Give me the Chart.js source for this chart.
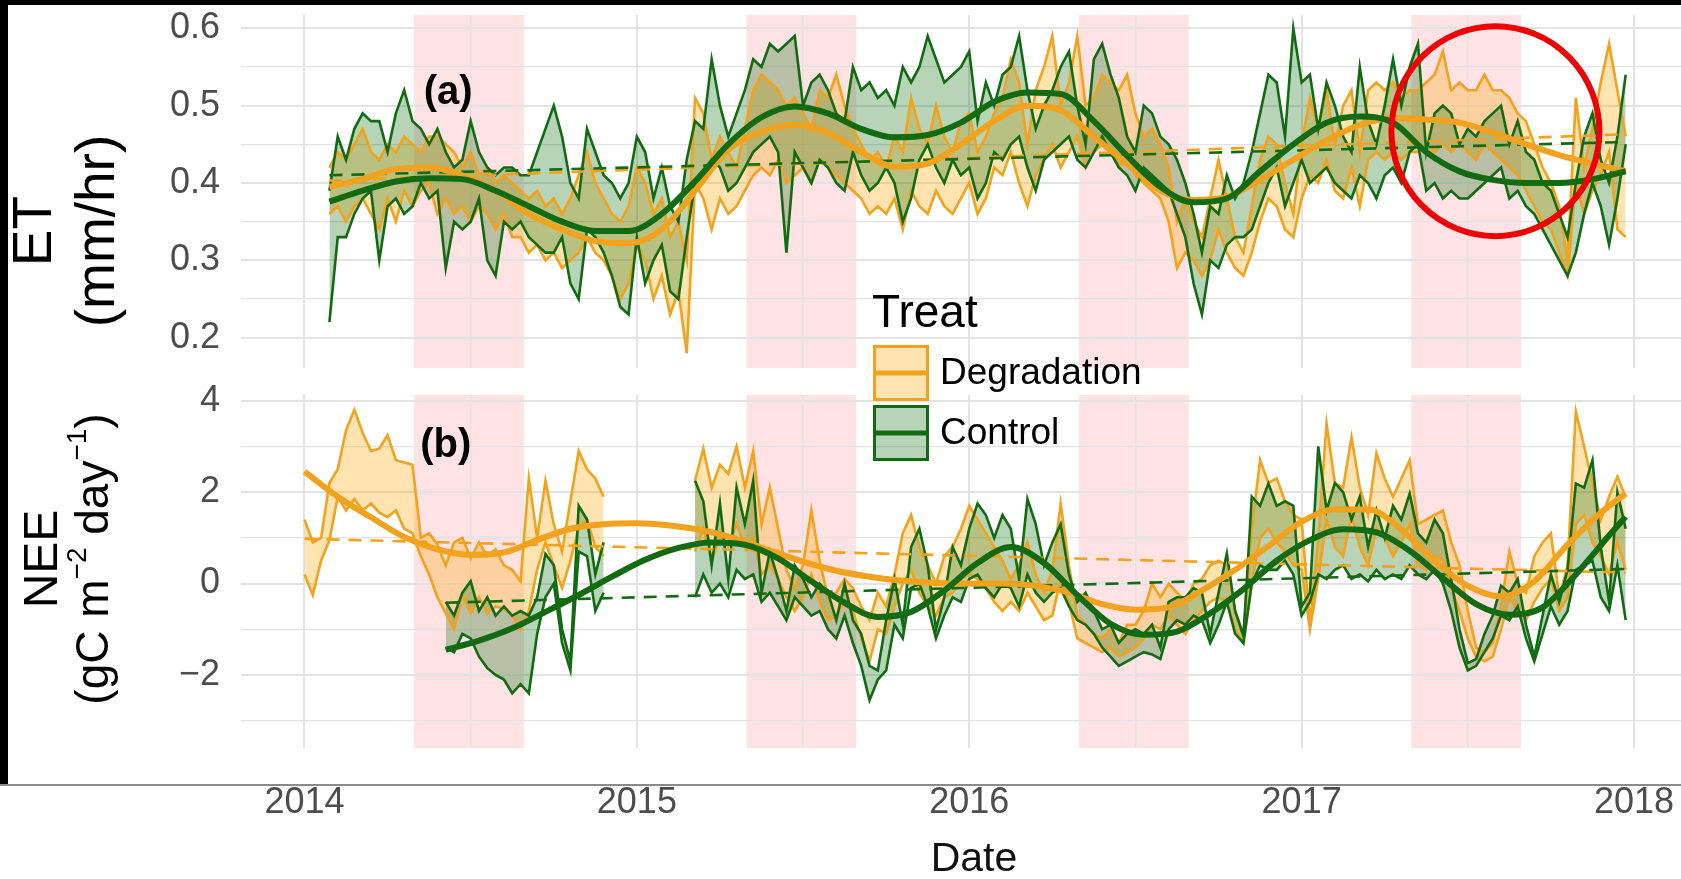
<!DOCTYPE html>
<html lang="en">
<head>
<meta charset="utf-8">
<title>ET and NEE by treatment</title>
<script src="https://cdn.jsdelivr.net/npm/chart.js@4.4.1/dist/chart.umd.min.js"></script>
<style>
  html, body { margin: 0; padding: 0; background: #fff; overflow: hidden; }
  #fig { position: relative; width: 1681px; height: 879px; overflow: hidden; background: #fff; }
  #fig canvas { position: absolute; left: 0; top: 0; }
  .frame { position: absolute; background: #000; }
  .seam { position: absolute; left: 0; top: 784px; width: 1681px; height: 2px; background: #8a8a8a; }
</style>
</head>
<body>
<div id="fig">
  <canvas id="etChart" width="1707" height="879"></canvas>
  <canvas id="neeChart" width="1707" height="879"></canvas>
  <div class="frame" style="left:0;top:0;width:1681px;height:5px"></div>
  <div class="frame" style="left:0;top:0;width:8px;height:784px"></div>
  <div class="seam"></div>
</div>
<script>
(function () {
  'use strict';

  const FONT = '"Liberation Sans", Arial, Helvetica, sans-serif';
  const DEG = '#f2a21c';
  const CTL = '#126b12';
  const DEG_FILL = 'rgba(255, 165, 0, 0.3)';
  const CTL_FILL = 'rgba(0, 100, 0, 0.28)';
  const GRID = '#e3e3e3';
  const TICK = '#4d4d4d';

  // samples sit on a regular grid: value k is at START + STEP * k (decimal years)
  const START = 2014;
  const STEP = 0.025;
  const X_MIN = 2013.809;
  const X_MAX = 2018.2196;

  const treatments = ['Degradation', 'Control'];

  // dry season shading, decimal years
  const dryStart = [2014.33, 2015.33, 2016.33, 2017.33];
  const dryEnd = [2014.66, 2015.66, 2016.66, 2017.66];

  // highlighted stretch in panel (a): centre as [year, ET]
  const highlightAt = [2017.583, 0.467];

  // ---- ET (mm/hr), ribbon edges per treatment ----
  const etDegHi = [
    null, null, null, .42, .44, .43, .45, .47, .44, .43, .45, .44, .46, .45, .44, .46, .46, .45, .44, .42,
    .44, .41, .42, .40, .41, .40, .39, .38, .39, .37, .38, .36, .38, .41, .44, .40, .38, .36, .35, .37,
    .42, .40, .36, .38, .33, .35, .30, .51, .49, .43, .46, .44, .42, .47, .52, .54, .53, .52, .50, .51,
    .49, .47, .52, .51, .54, .50, .47, .45, .43, .44, .42, .46, .44, .51, .47, .45, .50, .46, .44, .48,
    .49, .44, .46, .49, .51, .56, .53, .45, .52, .55, .59, .50, .53, .59, .50, .51, .54, .53, .52, .54,
    .49, .46, .47, .45, .42, .35, .38, .35, .33, .38, .43, .38, .33, .31, .37, .43, .46, .45, .40, .36,
    .45, .51, .47, .52, .45, .50, .52, .44, .52, .53, .52, .53, .51, .52, .52, .53, .54, .57, .52, .53,
    .52, .52, .54, .52, .52, .51, .49, .48, .45, .42, .40, .37, .30, .51, .42, .47, .53, .58, .52, .46
  ];
  const etDegLo = [
    null, null, null, .36, .37, .35, .37, .38, .36, .34, .38, .35, .39, .37, .39, .40, .36, .38, .36, .37,
    .35, .37, .36, .34, .36, .33, .33, .31, .32, .30, .31, .29, .30, .31, .33, .31, .30, .28, .25, .27,
    .32, .30, .25, .28, .23, .26, .18, .40, .38, .34, .38, .36, .37, .39, .41, .42, .41, .43, .40, .41,
    .42, .40, .43, .42, .41, .40, .39, .38, .36, .37, .36, .38, .34, .39, .37, .36, .39, .37, .36, .38,
    .40, .36, .38, .42, .41, .44, .40, .37, .41, .43, .45, .42, .44, .46, .42, .44, .45, .44, .42, .43,
    .41, .40, .39, .38, .35, .29, .31, .30, .28, .30, .34, .31, .29, .28, .31, .35, .38, .37, .34, .33,
    .38, .41, .40, .43, .39, .38, .42, .37, .43, .44, .43, .44, .43, .44, .44, .45, .44, .45, .44, .45,
    .44, .43, .45, .44, .43, .42, .41, .39, .37, .35, .34, .31, .28, .40, .36, .39, .41, .44, .34, .33
  ];
  const etCtlHi = [
    null, null, null, .39, .46, .43, .47, .49, .48, .48, .44, .49, .52, .48, .47, .45, .47, .44, .42, .43,
    .48, .44, .42, .41, .42, .42, .41, .41, .44, .47, .50, .46, .40, .38, .47, .44, .41, .40, .38, .40,
    .46, .44, .38, .42, .37, .35, .43, .48, .47, .56, .50, .46, .49, .52, .56, .55, .58, .57, .58, .59,
    .50, .53, .54, .52, .49, .48, .55, .52, .53, .51, .52, .50, .55, .53, .55, .59, .56, .53, .54, .55,
    .57, .48, .53, .50, .54, .55, .59, .52, .47, .50, .52, .55, .57, .50, .45, .56, .58, .54, .51, .46,
    .44, .50, .49, .46, .45, .43, .40, .36, .31, .37, .36, .41, .38, .40, .44, .49, .54, .53, .46, .60,
    .53, .54, .47, .53, .50, .46, .44, .55, .48, .45, .50, .56, .50, .55, .58, .44, .49, .50, .49, .45,
    .47, .46, .48, .49, .50, .45, .48, .44, .43, .40, .39, .36, .33, .40, .46, .49, .43, .40, .46, .54
  ];
  const etCtlLo = [
    null, null, null, .22, .33, .33, .36, .38, .39, .30, .37, .38, .36, .37, .40, .38, .39, .29, .35, .34,
    .35, .38, .30, .28, .35, .34, .35, .33, .32, .31, .31, .33, .27, .25, .34, .33, .31, .28, .24, .23,
    .33, .27, .30, .32, .26, .25, .33, .40, .41, .43, .42, .39, .40, .42, .44, .45, .46, .44, .31, .44,
    .42, .40, .43, .42, .40, .39, .44, .41, .39, .40, .42, .40, .35, .38, .43, .45, .42, .40, .43, .41,
    .42, .38, .40, .44, .43, .45, .46, .42, .39, .43, .44, .45, .46, .43, .42, .44, .46, .44, .42, .41,
    .39, .42, .41, .40, .39, .36, .33, .27, .23, .30, .29, .32, .33, .33, .34, .37, .40, .42, .37, .40,
    .43, .40, .41, .42, .40, .39, .38, .41, .40, .38, .41, .42, .40, .44, .45, .39, .40, .38, .39, .38,
    .38, .39, .40, .41, .42, .38, .39, .37, .36, .34, .32, .30, .28, .31, .36, .40, .37, .32, .38, .45
  ];
  // fitted seasonal curves and linear trends (sample index -> value)
  const etSmoothIdx = [3, 7, 11, 15, 19, 23, 27, 31, 35, 39, 43, 47, 51, 55, 59, 63, 67, 71, 75, 79,
    83, 87, 91, 95, 99, 103, 107, 111, 115, 119, 123, 127, 131, 135, 139, 143, 147, 151, 155, 159];
  const etDegSmooth = [.395, .405, .418, .42, .41, .39, .36, .34, .325, .322, .34, .39, .443, .466, .475, .465, .44, .421, .425, .45,
    .48, .50, .494, .46, .425, .39, .378, .382, .404, .43, .455, .475, .484, .482, .478, .465, .45, .436, .425, .415];
  const etCtlSmooth = [.376, .39, .402, .406, .405, .39, .37, .35, .338, .338, .36, .402, .45, .485, .499, .49, .47, .459, .462, .478,
    .505, .517, .515, .48, .435, .395, .375, .38, .415, .45, .478, .486, .478, .44, .415, .404, .40, .40, .405, .415];
  const etTrendIdx = [3, 159];
  const etDegTrend = [0.403, 0.463];
  const etCtlTrend = [0.41, 0.453];

  // ---- NEE (gC m-2 day-1), ribbon edges per treatment; nulls are missing weeks ----
  const neeDegHi = [
    1.40, 0.90, 1.00, 2.20, 2.50, 3.35, 3.80, 3.30, 2.90, 2.95, 3.25, 2.70, 2.65, 2.60, 1.00, 1.10, 0.85, 0.40, 0.90, 1.00,
    0.55, 0.90, 0.60, 0.75, 0.40, 0.30, 0.05, 2.30, 1.00, 2.25, 1.30, 0.70, 1.80, 2.90, 2.50, 2.30, 1.90, null, null, null,
    null, null, null, null, null, null, null, 2.25, 2.95, 2.10, 2.60, 2.40, 3.00, 2.10, 2.90, 1.30, 2.10, 1.20, 0.30, -0.10,
    0.40, 1.60, 0.50, -0.30, -0.20, 0.10, -0.10, -0.50, -0.80, -0.20, -0.50, 0.20, 1.10, 1.50, 0.80, 0.40, 0.00, 0.60, 0.80, 1.20,
    1.70, 1.40, 1.10, 0.80, 0.50, 0.10, 0.40, 0.90, 0.20, -0.20, 0.30, 1.75, 0.40, -0.70, -0.90, -1.10, -1.20, -1.00, -1.30, -0.90,
    -0.90, -0.60, 0.00, -0.30, 0.00, -0.20, -0.40, 0.00, 0.10, 0.40, 0.50, 0.40, -0.60, -1.10, 1.20, 2.70, 2.20, 2.30, 1.80, 1.50,
    1.40, -0.90, 1.00, 3.50, 2.20, 2.10, 3.20, 2.10, 1.50, 2.85, 2.30, 1.90, 2.30, 2.70, 1.30, 1.40, 1.50, 1.60, 0.90, 0.40,
    -0.60, -1.40, -1.50, -1.30, -0.50, 0.70, 0.00, -0.20, 0.60, 0.90, 1.10, -0.30, 0.40, 3.77, 3.00, 2.20, 1.40, 1.90, 2.34, 1.90
  ];
  const neeDegLo = [
    0.20, -0.25, 0.50, 0.95, 1.90, 1.60, 1.85, 1.60, 1.75, 1.55, 1.45, 1.60, 1.20, 1.10, 0.60, 0.20, -0.30, -0.65, -1.00, -0.25,
    -0.65, -0.30, -0.65, -0.50, -0.55, -0.70, -1.00, -0.60, 0.30, 0.90, 0.40, -0.10, 0.50, 1.20, 1.40, 0.80, 0.60, null, null, null,
    null, null, null, null, null, null, null, 0.70, 1.20, 0.50, 1.00, 0.80, 1.30, 0.80, 1.00, 0.20, 0.40, 0.10, -0.30, -0.60,
    -0.30, 0.20, -0.40, -0.80, -0.70, -0.40, -0.60, -1.20, -1.70, -1.00, -1.10, -0.50, 0.00, 0.30, -0.20, -0.50, -0.70, -0.30, -0.20, 0.10,
    0.20, 0.10, -0.10, -0.40, -0.60, -0.40, -0.60, -0.20, -0.50, -0.80, -0.70, 0.10, -0.40, -1.20, -1.30, -1.40, -1.50, -1.40, -1.60, -1.50,
    -1.40, -1.20, -0.90, -1.00, -0.70, -0.90, -1.10, -0.80, -0.60, -0.40, -0.30, -0.40, -1.00, -1.30, 0.00, 1.00, 1.20, 0.90, 0.70, 0.40,
    0.30, -1.00, 0.10, 1.40, 0.80, 0.60, 1.50, 0.80, 0.40, 1.20, 1.00, 0.60, 0.90, 1.30, 0.40, 0.30, 0.60, 0.50, -0.10, -0.60,
    -1.20, -1.60, -1.70, -1.60, -1.00, -0.30, -0.60, -0.80, -0.40, -0.10, 0.10, -0.60, -0.30, 1.30, 1.50, 0.90, 0.60, 0.20, 0.90, 0.30
  ];
  const neeCtlHi = [
    null, null, null, null, null, null, null, null, null, null, null, null, null, null, null, null, null, -0.40, -0.70, -0.20,
    0.05, -0.60, -0.30, -0.70, -0.50, -0.70, -0.60, -0.70, -0.30, 0.65, 0.40, -1.00, -1.70, 1.70, 1.40, 0.20, 0.90, null, null, null,
    null, null, null, null, null, null, null, 2.25, 1.80, 0.40, 1.75, 0.10, 2.10, 1.30, 2.25, -0.20, 0.70, 0.10, -0.60, 0.40,
    0.10, -0.30, 0.00, -0.20, -0.80, 0.00, -0.80, -1.10, -1.80, -1.90, -0.80, 0.10, -0.90, 0.80, 1.20, 0.40, -1.00, -0.30, 0.80, 0.40,
    1.20, 1.75, 1.50, 1.00, 1.50, 1.20, 0.10, 1.85, 1.30, 0.40, 0.90, 1.30, 0.20, -0.40, -0.20, -0.60, -1.00, -0.90, -1.30, -1.10,
    -1.00, -1.10, -0.90, -1.40, -0.40, -0.30, -0.30, -0.10, -0.20, -1.10, -0.20, 0.66, -0.60, -1.15, 1.90, 1.70, 2.19, 1.70, 1.80, 1.70,
    -0.50, -0.20, 3.00, 1.60, 2.20, 2.00, 1.40, 1.90, 0.80, 1.60, 1.00, 1.70, 1.40, 1.97, 1.10, 0.90, 1.40, 1.10, 0.10, -1.00,
    -1.74, -1.65, -1.10, -0.70, -0.05, -0.20, 0.10, -0.90, -1.60, -0.70, 0.20, -0.40, 0.30, 2.19, 2.10, 2.70, 0.80, -0.40, 2.00, 1.20
  ];
  const neeCtlLo = [
    null, null, null, null, null, null, null, null, null, null, null, null, null, null, null, null, null, -1.40, -1.50, -1.10,
    -1.20, -1.60, -1.85, -2.00, -2.10, -2.40, -2.20, -2.40, -1.10, -0.30, 0.00, -1.30, -1.90, 0.70, 0.60, -0.60, -0.20, null, null, null,
    null, null, null, null, null, null, null, -0.30, 0.20, -0.20, 0.00, -0.30, 0.30, 0.10, 0.20, -0.40, -0.20, -0.50, -0.80, -0.30,
    -0.50, -0.70, -0.60, -1.00, -1.20, -0.70, -1.30, -1.80, -2.55, -2.10, -1.90, -0.90, -1.20, -0.10, 0.00, -0.50, -1.20, -0.70, -0.30, -0.40,
    0.10, 0.20, -0.10, -0.30, 0.00, -0.10, -0.50, 0.20, -0.20, -0.40, -0.20, -0.10, -0.50, -0.80, -0.90, -1.10, -1.40, -1.60, -1.80, -1.70,
    -1.60, -1.50, -1.55, -1.65, -1.00, -0.80, -0.90, -0.70, -0.80, -1.30, -0.90, -0.40, -1.10, -1.30, 0.00, 0.40, 0.30, 0.30, 0.50, 0.20,
    -0.70, -0.40, 0.20, 0.10, 0.30, 0.40, 0.10, 0.20, 0.05, 0.30, 0.10, 0.20, 0.10, 0.40, 0.20, 0.10, 0.30, 0.00, -0.60, -1.40,
    -1.90, -1.80, -1.50, -1.20, -0.70, -0.80, -0.50, -1.20, -1.70, -1.10, -0.50, -0.90, -0.60, 0.30, 0.40, 0.50, -0.30, -0.60, 0.40, -0.80
  ];
  const neeDegSmoothIdx = [0, 4, 8, 12, 16, 20, 24, 28, 32, 36, 40, 44, 48, 52, 56, 60, 64, 68, 72, 76,
    80, 84, 88, 92, 96, 100, 104, 108, 112, 116, 120, 124, 128, 132, 136, 140, 144, 148, 152, 156, 159];
  const neeDegSmooth = [2.45, 1.90, 1.45, 1.02, 0.75, 0.63, 0.68, 0.95, 1.20, 1.30, 1.32, 1.27, 1.16, 0.98, 0.72, 0.48, 0.28, 0.15, 0.06, 0.01,
    0.00, 0.00, -0.05, -0.20, -0.45, -0.57, -0.52, -0.15, 0.30, 0.82, 1.35, 1.62, 1.62, 1.18, 0.50, -0.05, -0.28, 0.05, 0.85, 1.55, 1.97];
  const neeCtlSmoothIdx = [17, 21, 25, 29, 33, 37, 41, 45, 49, 53, 57, 61, 65, 69, 73, 77, 81, 85, 89, 93,
    97, 101, 105, 109, 113, 117, 121, 125, 129, 133, 137, 141, 145, 149, 153, 157, 159];
  const neeCtlSmooth = [-1.45, -1.25, -0.98, -0.62, -0.25, 0.15, 0.52, 0.78, 0.90, 0.85, 0.55, 0.05, -0.42, -0.73, -0.62, -0.15, 0.45, 0.80, 0.45, -0.25,
    -0.88, -1.12, -1.05, -0.65, -0.12, 0.50, 0.95, 1.19, 1.12, 0.72, 0.12, -0.45, -0.68, -0.52, 0.20, 1.05, 1.46];
  const neeDegTrendIdx = [0, 159];
  const neeDegTrend = [0.98, 0.24];
  const neeCtlTrendIdx = [17, 159];
  const neeCtlTrend = [-0.42, 0.32];

  Chart.defaults.font.family = FONT;

  const pts = (vals, idx) => vals.map((v, k) => ({ x: START + STEP * (idx ? idx[k] : k), y: v }));

  function ribbon(hi, lo, color, fill) {
    const line = { borderColor: color, borderWidth: 2.6, pointRadius: 0, tension: 0, spanGaps: false };
    return [
      Object.assign({ data: pts(hi), fill: { target: '+1', above: fill, below: fill } }, line),
      Object.assign({ data: pts(lo), fill: false }, line)
    ];
  }
  function smooth(vals, idx, color) {
    return { data: pts(vals, idx), borderColor: color, borderWidth: 6, pointRadius: 0,
      cubicInterpolationMode: 'monotone', fill: false };
  }
  function trend(vals, idx, color) {
    return { data: pts(vals, idx), borderColor: color, borderWidth: 2.6, borderDash: [13, 9],
      pointRadius: 0, fill: false };
  }

  // rotated axis title; segments flagged sup are drawn as superscripts
  function drawRotated(ctx, segs, cx, cy, size) {
    const main = size + 'px ' + FONT;
    const sup = Math.round(size * 0.6) + 'px ' + FONT;
    let total = 0;
    const widths = segs.map(s => {
      ctx.font = s.sup ? sup : main;
      const w = ctx.measureText(s.t).width;
      total += w;
      return w;
    });
    ctx.save();
    ctx.translate(cx, cy);
    ctx.rotate(-Math.PI / 2);
    ctx.textAlign = 'left';
    ctx.textBaseline = 'middle';
    let pos = -total / 2;
    segs.forEach((s, k) => {
      ctx.font = s.sup ? sup : main;
      ctx.fillText(s.t, pos, s.sup ? -size * 0.36 : 0);
      pos += widths[k];
    });
    ctx.restore();
  }

  function drawLegend(ctx) {
    ctx.textAlign = 'left';
    ctx.textBaseline = 'alphabetic';
    ctx.fillStyle = '#000';
    ctx.font = '46px ' + FONT;
    ctx.fillText('Treat', 872, 327);
    const colors = [DEG, CTL];
    const fills = [DEG_FILL, CTL_FILL];
    treatments.forEach((name, k) => {
      const top = 346 + 60 * k;
      ctx.fillStyle = fills[k];
      ctx.fillRect(874, top, 54, 54);
      ctx.strokeStyle = colors[k];
      ctx.lineWidth = 3;
      ctx.strokeRect(874.5, top + 0.5, 53, 53);
      ctx.beginPath();
      ctx.moveTo(876, top + 27);
      ctx.lineTo(926, top + 27);
      ctx.lineWidth = 5;
      ctx.stroke();
      ctx.fillStyle = '#000';
      ctx.font = '37px ' + FONT;
      ctx.fillText(name, 940, top + 38);
    });
  }

  function decor(cfg) {
    return {
      id: 'decor',
      beforeDraw(chart) {
        const { ctx, chartArea: a, scales: { x } } = chart;
        ctx.save();
        ctx.fillStyle = 'rgba(245, 30, 50, 0.13)';
        dryStart.forEach((s, k) => {
          const x0 = x.getPixelForValue(s);
          ctx.fillRect(x0, a.top, x.getPixelForValue(dryEnd[k]) - x0, a.bottom - a.top);
        });
        ctx.restore();
      },
      afterDraw(chart) {
        const { ctx, scales: { x, y } } = chart;
        ctx.save();
        ctx.fillStyle = '#000';
        ctx.font = 'bold 40px ' + FONT;
        ctx.textAlign = 'center';
        ctx.textBaseline = 'middle';
        ctx.fillText(cfg.tag, x.getPixelForValue(cfg.tagAt[0]), y.getPixelForValue(cfg.tagAt[1]));
        cfg.title.forEach((line, k) => drawRotated(ctx, line, cfg.titleX[k], cfg.titleY, cfg.titleSize[k]));
        if (cfg.ring) {
          ctx.beginPath();
          ctx.ellipse(x.getPixelForValue(cfg.ring[0]), y.getPixelForValue(cfg.ring[1]), 104, 105, 0, 0, Math.PI * 2);
          ctx.strokeStyle = '#ee0000';
          ctx.lineWidth = 6;
          ctx.stroke();
        }
        if (cfg.legend) drawLegend(ctx);
        ctx.restore();
      }
    };
  }

  const flat = s => { s.paddingTop = 0; s.paddingBottom = 0; s.paddingLeft = 0; s.paddingRight = 0; };

  function xScale(showLabels) {
    return {
      type: 'linear', min: X_MIN, max: X_MAX,
      afterFit: s => { flat(s); s.height = showLabels ? 131 : 0; },
      border: { display: false },
      grid: { color: GRID, lineWidth: c => (Number.isInteger(c.tick.value) ? 2 : 1.5), drawTicks: false },
      ticks: {
        display: showLabels, stepSize: 0.5, autoSkip: false, includeBounds: false, maxTicksLimit: 100,
        maxRotation: 0, padding: 33, color: TICK, font: { size: 36, lineHeight: 1.2 },
        callback: v => (Number.isInteger(v) ? String(v) : '')
      },
      title: { display: showLabels, text: 'Date', color: '#111', font: { size: 41, lineHeight: 0.92 },
        padding: { top: 0, bottom: 0 } }
    };
  }

  function yScale(min, max, step, label) {
    return {
      min: min, max: max,
      afterFit: s => { flat(s); s.width = 241; },
      border: { display: false },
      grid: { color: GRID, lineWidth: c => (label(c.tick.value) ? 2 : 1.2), drawTicks: false },
      ticks: {
        stepSize: step, autoSkip: false, includeBounds: false, maxTicksLimit: 100,
        padding: 21, color: TICK, font: { size: 36 },
        callback: v => label(v) || ''
      }
    };
  }
  const etLabel = v => {
    const r = Math.round(v * 10);
    return Math.abs(v * 10 - r) < 1e-6 ? (r / 10).toFixed(1) : null;
  };
  const neeLabel = v => (v % 2 === 0 ? (v < 0 ? '\u2212' + Math.abs(v) : String(v)) : null);

  function baseOptions(padTop, padBottom, xs, ys) {
    return {
      responsive: false,
      animation: false,
      devicePixelRatio: 1,
      events: [],
      layout: { padding: { top: padTop, bottom: padBottom, left: 0, right: 0 } },
      plugins: {
        legend: { display: false },
        tooltip: { enabled: false },
        filler: { drawTime: 'beforeDatasetsDraw' }
      },
      scales: { x: xs, y: ys }
    };
  }

  // panel (a): evapotranspiration
  new Chart(document.getElementById('etChart'), {
    type: 'line',
    data: {
      datasets: [
        smooth(etCtlSmooth, etSmoothIdx, CTL),
        smooth(etDegSmooth, etSmoothIdx, DEG),
        trend(etCtlTrend, etTrendIdx, CTL),
        trend(etDegTrend, etTrendIdx, DEG),
        ...ribbon(etCtlHi, etCtlLo, CTL, CTL_FILL),
        ...ribbon(etDegHi, etDegLo, DEG, DEG_FILL)
      ]
    },
    options: baseOptions(15, 511, xScale(false), yScale(0.1608, 0.6172, 0.05, etLabel)),
    plugins: [decor({
      tag: '(a)', tagAt: [2014.432, 0.516],
      titleX: [36, 99], titleY: 231, titleSize: [55, 55],
      title: [[{ t: 'ET' }], [{ t: '(mm/hr)' }]],
      ring: highlightAt
    })]
  });

  // panel (b): net ecosystem exchange
  new Chart(document.getElementById('neeChart'), {
    type: 'line',
    data: {
      datasets: [
        smooth(neeCtlSmooth, neeCtlSmoothIdx, CTL),
        smooth(neeDegSmooth, neeDegSmoothIdx, DEG),
        trend(neeCtlTrend, neeCtlTrendIdx, CTL),
        trend(neeDegTrend, neeDegTrendIdx, DEG),
        ...ribbon(neeCtlHi, neeCtlLo, CTL, CTL_FILL),
        ...ribbon(neeDegHi, neeDegLo, DEG, DEG_FILL)
      ]
    },
    options: baseOptions(395, 0, xScale(true), yScale(-3.597, 4.125, 1, neeLabel)),
    plugins: [decor({
      tag: '(b)', tagAt: [2014.425, 3.02],
      titleX: [44, 95], titleY: 559, titleSize: [48, 46],
      title: [[{ t: 'NEE' }],
        [{ t: '(gC m' }, { t: '\u22122', sup: true }, { t: ' day' }, { t: '\u22121', sup: true }, { t: ')' }]],
      legend: true
    })]
  });
})();
</script>
</body>
</html>
